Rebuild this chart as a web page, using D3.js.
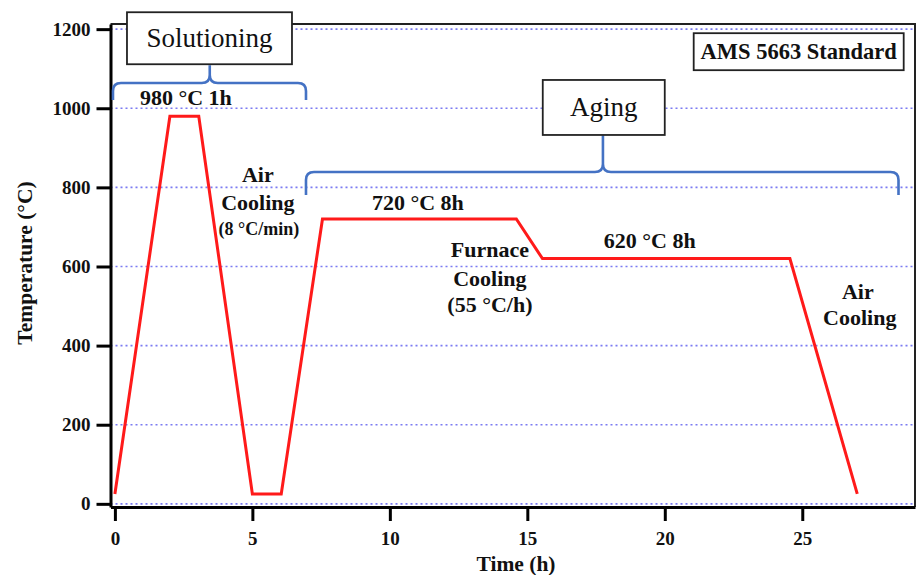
<!DOCTYPE html>
<html>
<head>
<meta charset="utf-8">
<script src="https://cdn.jsdelivr.net/npm/d3@7"></script>
<style>
    body {margin:0; background:#fff;}
    svg text {font-family:"Liberation Serif","Times New Roman",serif; fill:#111;}
    .tick text {font-weight:bold; font-size:19px;}
    .label {font-weight:bold; font-size:21.5px;}
    .note {font-weight:bold; font-size:22px;}
    .small {font-weight:bold; font-size:18px;}
</style>
</head>
<body>
<svg id="chart" width="917" height="575"></svg>
<script>
// heat treatment profile
let time = [0, 2, 3.05, 5, 6.05, 7.55, 14.6, 15.55, 24.55, 27]
let temp = [25, 980, 980, 25, 25, 720, 720, 620, 620, 25]

let xTicks = [0, 5, 10, 15, 20, 25]
let yTicks = [0, 200, 400, 600, 800, 1000, 1200]

// notes: text, time, temperature, class
let noteText = ["980 °C 1h", "Air", "Cooling", "(8 °C/min)", "720 °C 8h",
                "Furnace", "Cooling", "(55 °C/h)", "620 °C 8h", "Air", "Cooling"]
let noteT = [2.58, 5.2, 5.2, 5.24, 11.02, 13.64, 13.64, 13.64, 19.45, 27.02, 27.09]
let noteY = [1026, 831, 760, 695, 760, 642, 568, 503, 664, 536, 470]
let noteCls = ["note", "note", "note", "small", "note", "note", "note", "note", "note", "note", "note"]

// boxed labels
let boxText = ["Solutioning", "Aging", "AMS 5663 Standard"]
let boxT = [3.44, 17.78, 24.87]
let boxY = [1177, 1002, 1143]

// brackets: start, end, centre time; end, bar, top temperature
let brStart = [-0.07, 6.95]
let brEnd = [6.95, 28.5]
let brMid = [3.45, 17.75]
let brLow = [1021, 781]
let brBar = [1064, 839]
let brTop = [1109, 932]

let mLeft = 110.5, mRight = 915, mTop = 24, mBottom = 507
let svg = d3.select("#chart")

let xScale = d3.scaleLinear().domain([-0.16, 29.1]).range([mLeft, mRight])
let yScale = d3.scaleLinear().domain([-8, 1213]).range([mBottom, mTop])

// dotted grid
svg.append("g").selectAll("line").data(yTicks).enter().append("line")
    .attr("x1", mLeft).attr("x2", mRight)
    .attr("y1", d => yScale(d)).attr("y2", d => yScale(d))
    .attr("stroke", "#7b7bf2").attr("stroke-width", 1.6)
    .attr("stroke-dasharray", "2,3")

// frame top / right
svg.append("path")
    .attr("d", `M${mLeft},${mTop} H${mRight} V${mBottom}`)
    .attr("fill", "none").attr("stroke", "#222").attr("stroke-width", 2)

// axes
let x_axis = d3.axisBottom(xScale).tickValues(xTicks).tickSize(14).tickPadding(11).tickSizeOuter(0)
let y_axis = d3.axisLeft(yScale).tickValues(yTicks).tickSize(14).tickPadding(6).tickSizeOuter(0)
    .tickFormat(d3.format("d"))

svg.append("g").attr("class", "axisX")
    .attr("transform", `translate(0,${mBottom})`)
    .call(x_axis)
svg.append("g").attr("class", "axisY")
    .attr("transform", `translate(${mLeft},0)`)
    .call(y_axis)
svg.selectAll(".domain, .tick line").attr("stroke", "#000").attr("stroke-width", 3)
svg.selectAll(".tick text").attr("fill", "#111")

// axis labels
svg.append("text").attr("class", "label")
    .attr("x", 516).attr("y", 571)
    .attr("text-anchor", "middle")
    .text("Time (h)")
svg.append("text").attr("class", "label")
    .attr("transform", `translate(32,263) rotate(270)`)
    .attr("text-anchor", "middle")
    .text("Temperature (°C)")

// brackets
function bracket(x0, x1, xc, yEnd, yBar, yTop) {
    let r = 8
    return `M${x0},${yEnd} L${x0},${yBar + r} Q${x0},${yBar} ${x0 + r},${yBar}` +
        ` L${xc - r},${yBar} Q${xc},${yBar} ${xc},${yBar - r} L${xc},${yTop}` +
        ` M${xc},${yBar - r} Q${xc},${yBar} ${xc + r},${yBar}` +
        ` L${x1 - r},${yBar} Q${x1},${yBar} ${x1},${yBar + r} L${x1},${yEnd}`
}
svg.append("g").selectAll("path").data(brStart).enter().append("path")
    .attr("d", (d, i) => bracket(xScale(d), xScale(brEnd[i]), xScale(brMid[i]),
        yScale(brLow[i]), yScale(brBar[i]), yScale(brTop[i])))
    .attr("fill", "none").attr("stroke", "#4472c4").attr("stroke-width", 2.6)

// boxed labels
let boxW = [165, 122, 210], boxH = [52, 55, 37]
let boxes = svg.append("g").selectAll("g").data(boxText).enter().append("g")
    .attr("transform", (d, i) => `translate(${xScale(boxT[i])},${yScale(boxY[i])})`)
boxes.append("rect")
    .attr("x", (d, i) => -boxW[i] / 2).attr("y", (d, i) => -boxH[i] / 2)
    .attr("width", (d, i) => boxW[i]).attr("height", (d, i) => boxH[i])
    .attr("fill", "#fff").attr("stroke", "#222").attr("stroke-width", 1.8)
boxes.append("text")
    .attr("text-anchor", "middle").attr("dy", "0.33em")
    .style("font-size", (d, i) => i == 2 ? "22.5px" : "27px")
    .style("font-weight", (d, i) => i == 2 ? "bold" : "normal")
    .text(d => d)

// profile line
let line = d3.line().x(d => xScale(d[0])).y(d => yScale(d[1]))
svg.append("path")
    .datum(time.map((t, i) => [t, temp[i]]))
    .attr("d", line)
    .attr("fill", "none").attr("stroke", "#ff1a1a").attr("stroke-width", 3)

// notes
svg.append("g").selectAll("text").data(noteText).enter().append("text")
    .attr("class", (d, i) => noteCls[i])
    .attr("x", (d, i) => xScale(noteT[i]))
    .attr("y", (d, i) => yScale(noteY[i]))
    .attr("dy", "0.33em")
    .attr("text-anchor", "middle")
    .text(d => d)
</script>
</body>
</html>
